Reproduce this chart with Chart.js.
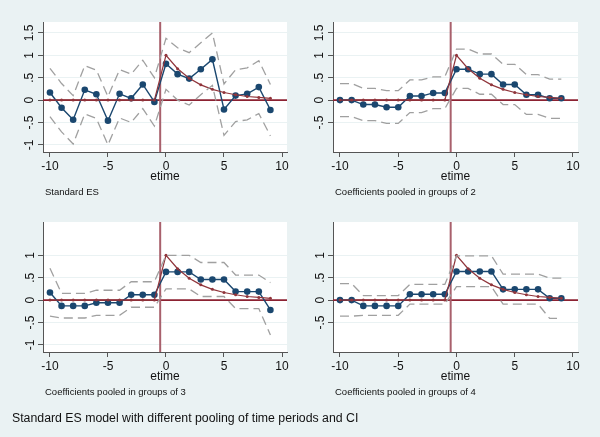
<!DOCTYPE html>
<html>
<head>
<meta charset="utf-8">
<script src="https://cdn.jsdelivr.net/npm/chart.js@4"></script>
<style>
  body { margin: 0; background: #eaf2f3; }
  #wrap { position: relative; width: 600px; height: 437px; background: #eaf2f3; font-family: "Liberation Sans", Arial, sans-serif; color: #111; }
  .panel { position: absolute; width: 300px; height: 200px; }
  .sub { position: absolute; font-size: 9.5px; white-space: nowrap; }
  #caption { position: absolute; left: 12px; top: 411px; font-size: 12.3px; white-space: nowrap; }
</style>
</head>
<body>
<div id="wrap">
  <div class="panel" style="left:0;top:0"><canvas id="c1" width="300" height="200"></canvas></div>
  <div class="panel" style="left:300px;top:0"><canvas id="c2" width="300" height="200"></canvas></div>
  <div class="panel" style="left:0;top:200px"><canvas id="c3" width="300" height="200"></canvas></div>
  <div class="panel" style="left:300px;top:200px"><canvas id="c4" width="300" height="200"></canvas></div>
  <div class="sub" style="left:45px;top:186px">Standard ES</div>
  <div class="sub" style="left:335px;top:186px">Coefficients pooled in groups of 2</div>
  <div class="sub" style="left:45px;top:386px">Coefficients pooled in groups of 3</div>
  <div class="sub" style="left:335px;top:386px">Coefficients pooled in groups of 4</div>
  <div id="caption">Standard ES model with different pooling of time periods and CI</div>
</div>
<script>
// event time
const etime = [-10, -9, -8, -7, -6, -5, -4, -3, -2, -1, 0, 1, 2, 3, 4, 5, 6, 7, 8, 9];
const xTicks = [-10, -5, 0, 5, 10];

// true effect (red)
const truth = [0, 0, 0, 0, 0, 0, 0, 0, 0, 0, 1.0, 0.70, 0.49, 0.34, 0.24, 0.17, 0.12, 0.08, 0.06, 0.04];

// standard ES
const coef1 = [0.17, -0.17, -0.44, 0.23, 0.13, -0.46, 0.14, 0.04, 0.35, -0.04, 0.81, 0.58, 0.48, 0.69, 0.91, -0.21, 0.10, 0.14, 0.29, -0.22];
const upper1 = [0.71, 0.37, 0.10, 0.77, 0.67, 0.08, 0.68, 0.58, 0.89, 0.50, 1.38, 1.17, 1.06, 1.28, 1.50, 0.36, 0.68, 0.72, 0.88, 0.35];
const lower1 = [-0.37, -0.71, -0.98, -0.31, -0.41, -1.00, -0.40, -0.50, -0.19, -0.58, 0.24, 0.00, -0.11, 0.12, 0.33, -0.79, -0.48, -0.44, -0.30, -0.80];

// groups of 2
const coef2 = [0, 0, -0.10, -0.10, -0.16, -0.16, 0.09, 0.09, 0.16, 0.16, 0.69, 0.69, 0.58, 0.58, 0.35, 0.35, 0.12, 0.12, 0.04, 0.04];
const upper2 = [0.37, 0.37, 0.26, 0.26, 0.21, 0.21, 0.45, 0.45, 0.52, 0.52, 1.14, 1.14, 1.03, 1.03, 0.80, 0.80, 0.57, 0.57, 0.47, 0.47];
const lower2 = [-0.37, -0.37, -0.46, -0.46, -0.52, -0.52, -0.28, -0.28, -0.19, -0.19, 0.26, 0.26, 0.13, 0.13, -0.10, -0.10, -0.32, -0.32, -0.41, -0.41];

// groups of 3
const coef3 = [0.17, -0.13, -0.13, -0.13, -0.06, -0.06, -0.06, 0.12, 0.12, 0.12, 0.63, 0.63, 0.63, 0.46, 0.46, 0.46, 0.19, 0.19, 0.19, -0.22];
const upper3 = [0.71, 0.15, 0.15, 0.15, 0.22, 0.22, 0.22, 0.41, 0.41, 0.41, 1.00, 1.00, 1.00, 0.84, 0.84, 0.84, 0.56, 0.56, 0.56, 0.39];
const lower3 = [-0.36, -0.40, -0.40, -0.40, -0.34, -0.34, -0.34, -0.16, -0.16, -0.16, 0.25, 0.25, 0.25, 0.08, 0.08, 0.08, -0.19, -0.19, -0.19, -0.78];

// groups of 4
const coef4 = [0, 0, -0.13, -0.13, -0.13, -0.13, 0.13, 0.13, 0.13, 0.13, 0.64, 0.64, 0.64, 0.64, 0.24, 0.24, 0.24, 0.24, 0.04, 0.04];
const upper4 = [0.37, 0.37, 0.10, 0.10, 0.10, 0.10, 0.35, 0.35, 0.35, 0.35, 0.99, 0.99, 0.99, 0.99, 0.58, 0.58, 0.58, 0.58, 0.49, 0.49];
const lower4 = [-0.36, -0.36, -0.34, -0.34, -0.34, -0.34, -0.09, -0.09, -0.09, -0.09, 0.30, 0.30, 0.30, 0.30, -0.09, -0.09, -0.09, -0.09, -0.41, -0.41];

const yTicks1 = [-1, -0.5, 0, 0.5, 1, 1.5];
const yTicks2 = [-0.5, 0, 0.5, 1, 1.5];
const yTicks3 = [-1, -0.5, 0, 0.5, 1];
const yTicks4 = [-0.5, 0, 0.5, 1];

const eventLine = -0.5;
const zeroLine = 0;

const NAVY = '#1a476f';
const MAROON = '#90353b';
const FONT = '"Liberation Sans", Arial, sans-serif';

function pts(vals) {
  return etime.map((t, i) => ({ x: t, y: vals[i] }));
}

function fmt(v) {
  if (v === 0) return '0';
  return String(v).replace('0.', '.');
}

const refLines = {
  id: 'refLines',
  beforeDraw(chart) {
    const { ctx, chartArea: a } = chart;
    ctx.save();
    ctx.fillStyle = '#ffffff';
    ctx.fillRect(a.left, a.top, a.right - a.left, a.bottom - a.top);
    ctx.restore();
  },
  beforeDatasetsDraw(chart) {
    const { ctx, chartArea: a, scales } = chart;
    const x = scales.x.getPixelForValue(eventLine);
    const y = scales.y.getPixelForValue(zeroLine);
    ctx.save();
    ctx.strokeStyle = '#8c2232';
    ctx.lineWidth = 1.6;
    ctx.beginPath();
    ctx.moveTo(a.left, y);
    ctx.lineTo(a.right, y);
    ctx.stroke();
    ctx.strokeStyle = '#a8606c';
    ctx.lineWidth = 2;
    ctx.beginPath();
    ctx.moveTo(x, a.top);
    ctx.lineTo(x, a.bottom);
    ctx.stroke();
    ctx.restore();
  }
};

function makePanel(id, coef, upper, lower, yTicks, axisWidth, rightPad) {
  const ctx = document.getElementById(id).getContext('2d');
  const ci = {
    borderColor: '#a0a0a0',
    borderWidth: 1.3,
    borderDash: [9, 5],
    pointRadius: 0,
    fill: false
  };
  new Chart(ctx, {
    type: 'line',
    data: {
      datasets: [
        Object.assign({ label: 'upper', data: pts(upper) }, ci),
        Object.assign({ label: 'lower', data: pts(lower) }, ci),
        {
          label: 'truth',
          data: pts(truth),
          borderColor: MAROON,
          backgroundColor: MAROON,
          borderWidth: 1.2,
          pointRadius: 1.5,
          pointBorderWidth: 0
        },
        {
          label: 'coef',
          data: pts(coef),
          borderColor: NAVY,
          backgroundColor: NAVY,
          borderWidth: 1.4,
          pointRadius: 3.3,
          pointBorderWidth: 0
        }
      ]
    },
    options: {
      responsive: false,
      animation: false,
      devicePixelRatio: 1,
      layout: { padding: { top: 22, right: rightPad, left: 0, bottom: 16 } },
      plugins: {
        legend: { display: false },
        tooltip: { enabled: false }
      },
      scales: {
        x: {
          type: 'linear',
          min: -10.6,
          max: 10.43,
          afterBuildTicks: s => { s.ticks = xTicks.map(v => ({ value: v })); },
          afterFit: s => { s.height = 32; },
          ticks: { font: { family: FONT, size: 12 }, color: '#111', padding: 2, maxRotation: 0 },
          grid: { drawOnChartArea: false, tickLength: 5, tickColor: '#555' },
          border: { color: '#555', width: 1 },
          title: { display: true, text: 'etime', font: { family: FONT, size: 12 }, color: '#111', padding: 0 }
        },
        y: {
          min: -1.16,
          max: 1.745,
          afterBuildTicks: s => { s.ticks = yTicks.map(v => ({ value: v })); },
          afterFit: s => { s.width = axisWidth; },
          ticks: {
            font: { family: FONT, size: 12 },
            color: '#111',
            padding: 0,
            minRotation: 90,
            maxRotation: 90,
            crossAlign: 'center',
            callback: v => fmt(v)
          },
          grid: { color: '#eaf2f3', lineWidth: 1, tickLength: 5, tickColor: '#555' },
          border: { color: '#555', width: 1 }
        }
      }
    },
    plugins: [refLines]
  });
}

makePanel('c1', coef1, upper1, lower1, yTicks1, 43, 13);
makePanel('c2', coef2, upper2, lower2, yTicks2, 33, 22);
makePanel('c3', coef3, upper3, lower3, yTicks3, 43, 13);
makePanel('c4', coef4, upper4, lower4, yTicks4, 33, 22);
</script>
</body>
</html>
